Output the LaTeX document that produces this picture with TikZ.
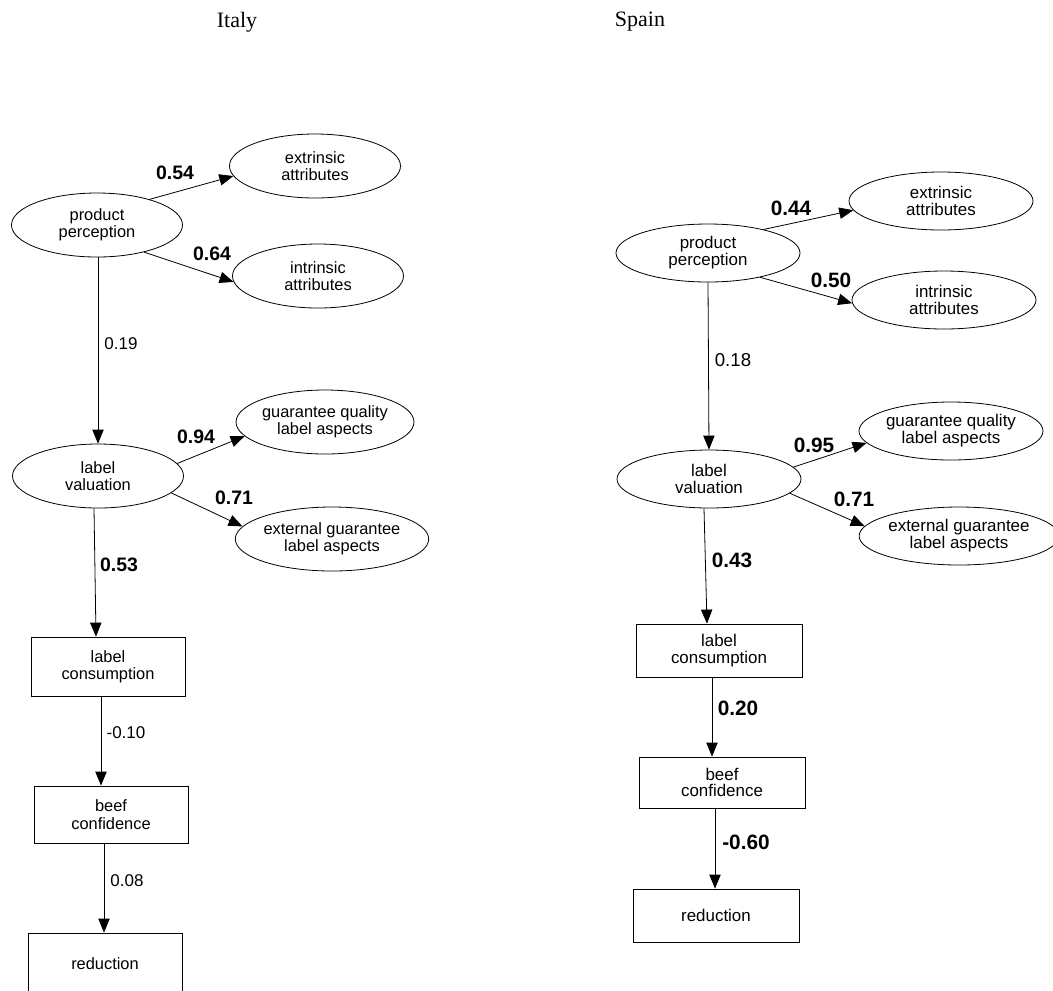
\documentclass[tikz,border=0pt]{standalone}
\usepackage{fontspec}
\setmainfont{Liberation Serif}
\newfontfamily\arialf{Liberation Sans}
\usetikzlibrary{shapes.geometric,arrows.meta,calc}
\begin{document}
\begin{tikzpicture}[x=0.75pt,y=-0.75pt,
  ellI/.style={ellipse,draw,line width=0.6pt,minimum width=128.25pt,minimum height=48pt,inner sep=0pt,align=center,font=\arialf\fontsize{12.3}{13}\selectfont},
  ellS/.style={ellipse,draw,line width=0.6pt,minimum width=138pt,minimum height=43.5pt,inner sep=0pt,align=center,font=\arialf\fontsize{12.7}{12.6}\selectfont},
  boxI/.style={rectangle,draw,line width=0.6pt,minimum width=115.5pt,minimum height=44.25pt,inner sep=0pt,align=center,font=\arialf\fontsize{12.3}{13}\selectfont},
  boxS/.style={rectangle,draw,line width=0.6pt,minimum width=124.5pt,minimum height=39.75pt,inner sep=0pt,align=center,font=\arialf\fontsize{12.7}{12.6}\selectfont},
  conn/.style={line width=0.6pt,-{Triangle[length=10.5pt,width=8.5pt]}},
  labI/.style={inner sep=0pt,font=\arialf\fontsize{12.75}{13}\selectfont},
  blabI/.style={inner sep=0pt,font=\arialf\bfseries\fontsize{14.6}{15}\selectfont},
  labS/.style={inner sep=0pt,font=\arialf\fontsize{14}{14}\selectfont},
  blabS/.style={inner sep=0pt,font=\arialf\bfseries\fontsize{15.6}{16}\selectfont},
  ttl/.style={inner sep=0pt,font=\fontsize{16.5}{16.5}\selectfont}
]
\clip (0,0) rectangle (1053,990);
\fill[white] (0,0) rectangle (1053,990);

% titles
\node[ttl] (tI) at (237,22) {Italy};
\node[ttl] (tS) at (640,22) {Spain};

% ---------------- Italy ----------------
\node[ellI] (ppI) at (97,225) {product\\perception};
\node[ellI] (exI) at (315,166) {extrinsic\\attributes};
\node[ellI] (inI) at (318,276) {intrinsic\\attributes};
\node[ellI] (lvI) at (98,476) {label\\valuation};
\node[ellI] (gqI) at (325,422) {guarantee quality\\label aspects};
\node[ellI] (egI) at (332,539) {external guarantee\\label aspects};
\node[boxI] (lcI) at (108,666.5) {label\\consumption};
\node[boxI,minimum height=42.75pt] (bcI) at (111,814.5) {beef\\confidence};
\node[boxI,minimum height=66pt] (reI) at (105,977) {};
\node[inner sep=0pt,font=\arialf\fontsize{12.3}{13}\selectfont] (reIt) at (105,964) {reduction};

\draw[conn] (ppI.26) -- (exI.187);
\draw[conn] (ppI.-30) -- (inI.184);
\draw[conn] ($(ppI.south)+(1,0)$) -- (lvI.north);
\draw[conn] (lvI.9) -- (gqI.190);
\draw[conn] (lvI.-13) -- (egI.172);
\draw[conn] ($(lvI.south)+(-4,0)$) -- ($(lcI.north)+(-12,0)$);
\draw[conn] ($(lcI.south)+(-7,0)$) -- ($(bcI.north)+(-10,0)$);
\draw[conn] ($(bcI.south)+(-7,0)$) -- ($(reI.north)+(-1,0)$);

\node[blabI] (l1I) at (175,173) {0.54};
\node[blabI] (l2I) at (212,254) {0.64};
\node[labI]  (l3I) at (121,344) {0.19};
\node[blabI] (l4I) at (196,437) {0.94};
\node[blabI] (l5I) at (234,498) {0.71};
\node[blabI] (l6I) at (119,565) {0.53};
\node[labI]  (l7I) at (126,733) {-0.10};
\node[labI]  (l8I) at (127,881) {0.08};

% ---------------- Spain ----------------
\node[ellS] (ppS) at (708,253) {product\\perception};
\node[ellS] (exS) at (941,201) {extrinsic\\attributes};
\node[ellS] (inS) at (944,300) {intrinsic\\attributes};
\node[ellS] (lvS) at (709,479) {label\\valuation};
\node[ellS] (gqS) at (951,431) {guarantee quality\\label aspects};
\node[ellS] (egS) at (959,536) {external guarantee\\label aspects};
\node[boxS] (lcS) at (719,650.5) {label\\consumption};
\node[boxS,minimum height=38.25pt] (bcS) at (722,782.5) {beef\\confidence};
\node[boxS] (reS) at (716,915.5) {reduction};

\draw[conn] (ppS.23) -- (exS.186);
\draw[conn] (ppS.-25) -- (inS.182);
\draw[conn] (ppS.south) -- (lvS.north);
\draw[conn] (lvS.8) -- (gqS.188);
\draw[conn] (lvS.-10) -- (egS.174);
\draw[conn] ($(lvS.south)+(-5,0)$) -- ($(lcS.north)+(-12,0)$);
\draw[conn] ($(lcS.south)+(-7,0)$) -- ($(bcS.north)+(-10,0)$);
\draw[conn] ($(bcS.south)+(-7,0)$) -- ($(reS.north)+(-1,0)$);

\node[blabS] (l1S) at (791,208) {0.44};
\node[blabS] (l2S) at (831,280) {0.50};
\node[labS]  (l3S) at (733,360) {0.18};
\node[blabS] (l4S) at (814,445) {0.95};
\node[blabS] (l5S) at (854,499) {0.71};
\node[blabS] (l6S) at (732,560) {0.43};
\node[blabS] (l7S) at (738,708) {0.20};
\node[blabS] (l8S) at (746,842) {-0.60};
\end{tikzpicture}
\end{document}
